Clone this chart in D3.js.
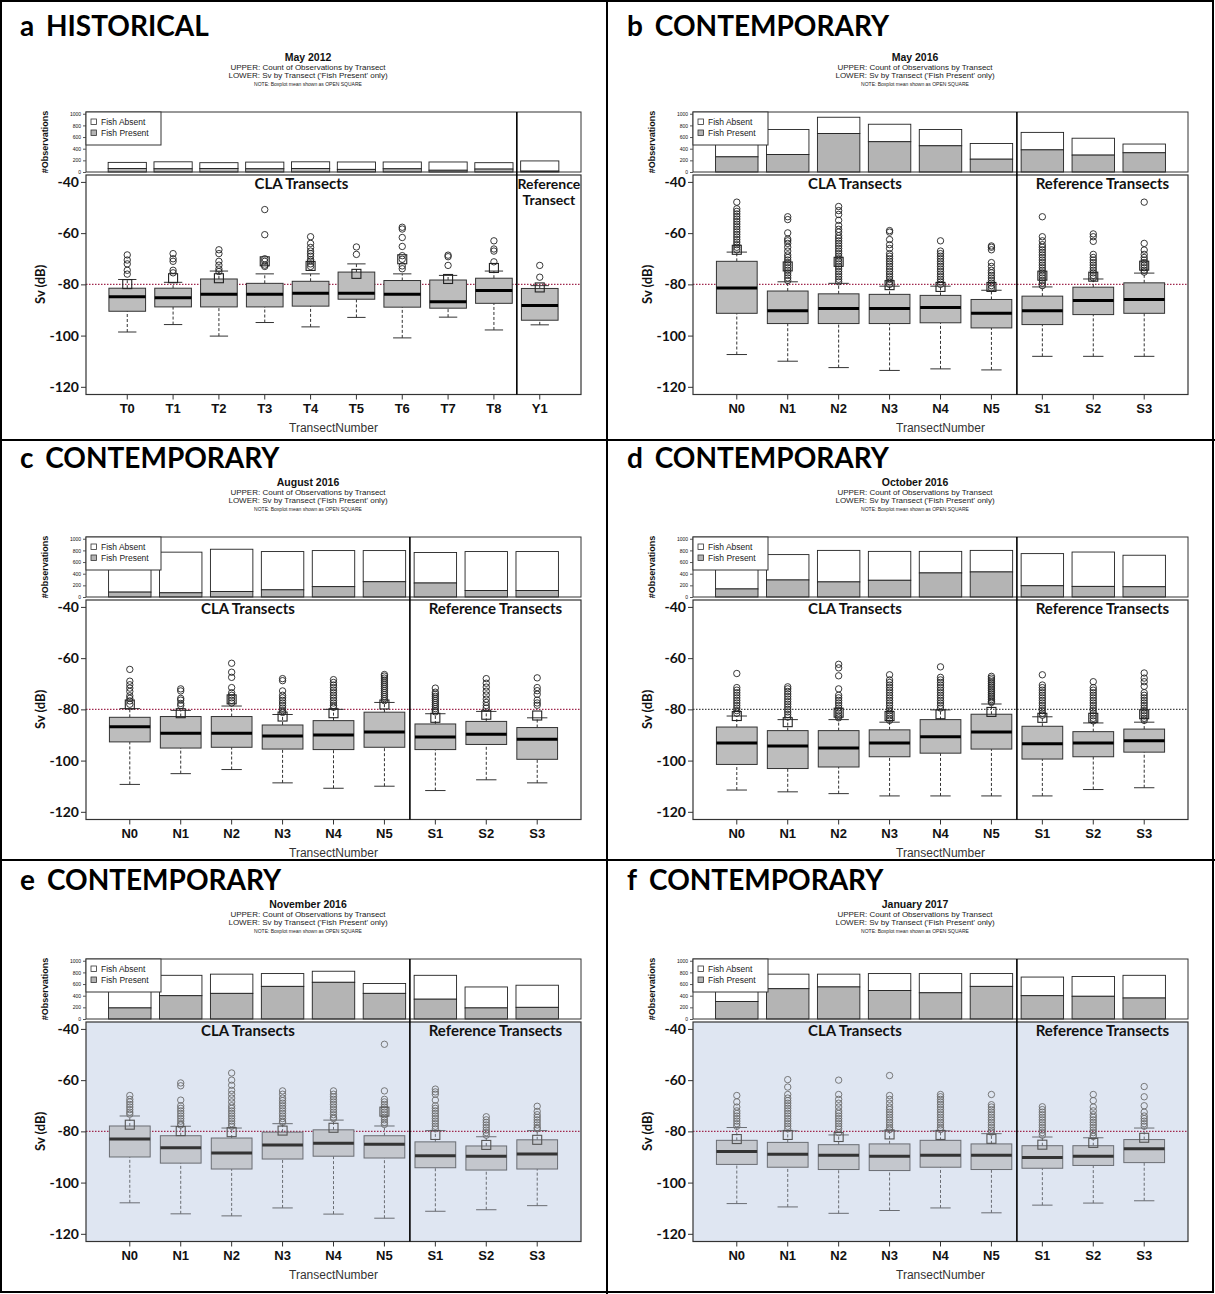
<!DOCTYPE html>
<html lang="en">
<head>
<meta charset="UTF-8">
<script src="https://d3js.org/d3.v7.min.js"></script>
<title>Sv by transect</title>
<style>
  body { margin: 0; background: #fff; }
  text { font-family: 'Liberation Sans', Arial, sans-serif; fill: #111; }
  text.panel-title { font-family: Lato, sans-serif; font-weight: bold; font-size: 28px; fill: #000; }
  text.month { font-weight: bold; font-size: 10.5px; text-anchor: middle; }
  text.sub { font-size: 8px; text-anchor: middle; fill: #222; }
  text.note { font-size: 5px; text-anchor: middle; fill: #222; }
  text.region { font-family: Lato, sans-serif; font-weight: bold; font-size: 15px; text-anchor: middle; }
  text.ylab { font-family: Lato, sans-serif; font-weight: bold; font-size: 13px; text-anchor: middle; }
  text.obs { font-weight: bold; font-size: 9px; text-anchor: middle; }
  text.xtitle { font-size: 12px; text-anchor: middle; fill: #333; }
  text.legend { font-size: 8.5px; fill: #222; }
</style>
</head>
<body>
<svg width="1215" height="1294"></svg>
<script>
// ---- data ----
const panelLetters = ["a", "b", "c", "d", "e", "f"];
const panelEras = ["HISTORICAL", "CONTEMPORARY", "CONTEMPORARY", "CONTEMPORARY", "CONTEMPORARY", "CONTEMPORARY"];
const surveyMonths = ["May 2012", "May 2016", "August 2016", "October 2016", "November 2016", "January 2017"];
const transectsHistoric = ["T0", "T1", "T2", "T3", "T4", "T5", "T6", "T7", "T8", "Y1"];
const transectsContemporary = ["N0", "N1", "N2", "N3", "N4", "N5", "S1", "S2", "S3"];
const countTicks = [0, 200, 400, 600, 800, 1000];
const svTicks = [-120, -100, -80, -60, -40];
const thresholdSv = -80;

// upper plot: total observations and 'fish present' observations
const countTotal = [
  [165, 175, 160, 170, 175, 172, 172, 172, 160, 190],
  [600, 730, 940, 820, 730, 490, 680, 580, 480],
  [600, 770, 820, 780, 797, 797, 764, 780, 780],
  [640, 728, 800, 783, 783, 800, 745, 772, 717],
  [650, 750, 770, 780, 820, 610, 750, 550, 580],
  [650, 770, 770, 780, 780, 780, 720, 730, 750]
];
const countPresent = [
  [60, 55, 60, 55, 60, 45, 55, 30, 50, 15],
  [260, 300, 660, 520, 450, 220, 380, 290, 330],
  [84, 72, 95, 123, 178, 262, 240, 111, 111],
  [138, 292, 259, 287, 413, 430, 193, 182, 176],
  [190, 400, 440, 560, 630, 440, 340, 190, 200],
  [300, 520, 550, 490, 450, 560, 400, 390, 360]
];

// lower plot: boxplot statistics of Sv (dB)
const whiskerLow = [
  [-98.6, -95.7, -100.2, -94.9, -96.6, -92.9, -100.9, -92.8, -97.8, -95.8],
  [-107.4, -110, -112.5, -113.6, -113, -113.4, -108.1, -108.1, -108.1],
  [-109.3, -105.1, -103.5, -108.7, -110.8, -110, -111.7, -107.5, -108.7],
  [-111.5, -112.2, -112.9, -113.8, -113.8, -113.8, -113.8, -111.3, -110.6],
  [-107.9, -112.2, -113, -109.9, -112.3, -113.9, -111.2, -110.6, -109],
  [-108.2, -109.5, -112, -110.9, -109.9, -111.8, -108.8, -108, -107.1]
];
const boxQ1 = [
  [-90.5, -88.8, -88.8, -88.8, -88.5, -85.8, -88.9, -89.3, -87.4, -94.0],
  [-91.3, -95.3, -95.3, -95.3, -95, -97, -95.7, -91.8, -91.3],
  [-92.7, -95.1, -94.8, -95.5, -95.7, -94.8, -95.7, -93.7, -99.5],
  [-101.5, -103.1, -102.5, -98.5, -97.1, -95.5, -99.4, -98.5, -96.7],
  [-90, -92.4, -94.7, -90.8, -89.7, -90.4, -94.2, -95.1, -94.7],
  [-92.9, -94, -94.9, -95.3, -94, -94.9, -94.4, -93.3, -92.2]
];
const boxMedian = [
  [-84.8, -85.2, -83.9, -83.9, -83.5, -83.5, -83.9, -86.8, -82.4, -88.3],
  [-81.4, -90.3, -89.4, -89.4, -89, -91.3, -90.3, -86.3, -85.9],
  [-86.8, -89.3, -89.3, -90.4, -90, -88.8, -90.8, -89.7, -91.7],
  [-93.1, -94.3, -95.1, -93.1, -90.7, -88.8, -93.4, -93.1, -92.3],
  [-83, -86.4, -88.4, -85.3, -84.6, -85, -89.5, -89.7, -88.8],
  [-87.9, -88.9, -89.3, -89.7, -89.3, -89.3, -90.2, -89.7, -86.8]
];
const boxQ3 = [
  [-81.5, -81.5, -77.9, -79.6, -78.8, -75.2, -78.5, -78.3, -77.6, -81.6],
  [-71, -82.6, -83.7, -83.9, -84.3, -85.9, -84.6, -81.1, -79.4],
  [-83.1, -82.8, -82.8, -86.1, -84.4, -81.1, -85.7, -84.7, -87.1],
  [-86.9, -88.3, -88.3, -88, -84, -81.9, -86.6, -88.7, -87.7],
  [-77.9, -81.7, -82.6, -80.3, -79.4, -81.7, -84.1, -85.7, -83.3],
  [-83.5, -84.3, -85.2, -84.9, -83.5, -84.9, -85.6, -85.6, -83.2]
];
const whiskerHigh = [
  [-78.1, -79.2, -74.8, -75.9, -75.9, -72.0, -75.9, -76.5, -74.8, -80.5],
  [-67.4, -79, -79.6, -80.7, -80.7, -82.3, -81, -77.9, -75.6],
  [-79.7, -80.4, -78.7, -82, -80, -77.3, -81.7, -80.8, -83.3],
  [-82.6, -84, -84, -85, -80.2, -77.9, -82.9, -85.3, -85],
  [-74, -78, -78.7, -77, -75.6, -77.9, -79.7, -82.1, -79.7],
  [-78.5, -79.8, -81.4, -79.8, -79.8, -80.9, -82.2, -82.5, -78.7]
];
const boxMean = [
  [-79.9, -77.6, -77.6, -71.0, -72.8, -75.9, -70.2, -77.9, -73.6, -81.2],
  [-66.5, -73, -71.2, -80.3, -81, -81, -76.6, -77, -72.7],
  [-78.1, -81.5, -76.1, -82.8, -81.5, -78.1, -83.3, -82.1, -82.4],
  [-82.6, -85, -81.3, -82.6, -81.9, -81, -83.3, -83.3, -81.9],
  [-77.4, -79.9, -80.3, -79.7, -78.6, -72.3, -81.4, -85.3, -83.3],
  [-83, -81.4, -82.2, -81.2, -81.4, -82.9, -85.2, -84.5, -82.5]
];
const outliers = [
  [
    [-68.5, -70.5, -72, -74.5, -76],
    [-68, -70, -71, -74.5, -75.5],
    [-66.5, -68, -71, -72.5, -74, -75],
    [-50.8, -60.6, -70, -71, -72.5, -73],
    [-61.4, -64, -65.6, -67, -68, -69, -70.3, -71, -72, -73],
    [-65.4, -68.3],
    [-57.7, -58.4, -61.7, -65.2, -68.8, -70.2, -72.8, -73.9],
    [-68.6, -69.2, -72.6],
    [-63, -66.2, -67, -71.2],
    [-72.6, -77.2]
  ],
  [
    [-47.9, -50.5, -51.5, -52.5, -53.5, -54.5, -55.5, -56.5, -57.5, -58.5, -59.5, -60.5, -61.5, -62.5, -63.5, -64.5, -65.5, -66.5],
    [-53.6, -54.7, -59.9, -62.3, -63, -64, -65.5, -67, -68.5, -69.5, -70.5, -71.5, -72.5, -73.5, -74.5, -75.5, -76.5, -77.5, -78.5],
    [-49.6, -51.2, -52.7, -55, -57, -58.5, -59.6, -61, -62, -63, -64, -65, -66, -67, -68, -69, -70, -71, -72, -73, -74, -75, -76, -77, -78, -79],
    [-59, -59.6, -62.5, -64.5, -66, -68, -69, -70, -71, -72, -73, -74, -75, -76, -77, -78, -79, -80],
    [-63, -67, -68, -69, -70, -71, -72, -73, -74, -75, -76, -77, -78, -79, -80],
    [-65, -65.5, -66.5, -71.5, -73, -74.5, -75.5, -76.5, -77.5, -78.5, -79.5, -80.5, -81.5],
    [-53.6, -61.4, -63, -64.5, -65.5, -66.5, -67.5, -68.5, -69.5, -70.5, -71.5, -72.5, -73.5, -74.5, -75.5, -76.5, -77.5, -78.5, -79.5, -80.5],
    [-60.3, -61.4, -63.2, -68.3, -69.5, -70.5, -71.5, -72.5, -73.5, -74.5, -75.5, -76.5, -77.5],
    [-47.9, -64, -66.6, -68.3, -69.5, -70.5, -71.5, -72.5, -73.5, -74.5, -75.2]
  ],
  [
    [-64.4, -69, -70.4, -71.7, -73, -74.7, -75.7, -76.7, -78],
    [-72, -72.8, -75.7, -76.4, -77.7, -78.5],
    [-62, -65.5, -67.5, -71.5, -73.5, -74.5, -75.5, -76.5, -77.5],
    [-68, -68.8, -72.8, -74.5, -75.5, -76.5, -77.5, -78.5, -79.5, -80.5, -81.2],
    [-68.4, -69.5, -70.5, -71.5, -72.5, -73.5, -74.5, -75.5, -76.5, -77.5, -78.5, -79.2],
    [-66.4, -67, -67.8, -68.6, -69.4, -70.2, -71, -71.8, -72.6, -73.4, -74.2, -75, -75.8, -76.6],
    [-71.7, -73.3, -74.1, -74.9, -75.7, -76.5, -77.3, -78.1, -78.9, -79.7, -80.5, -81],
    [-68, -69.8, -71.3, -72.9, -74.4, -76, -77.3, -78.5, -79.5],
    [-67.7, -71.5, -72.7, -74.1, -76.4, -77.5, -78.4]
  ],
  [
    [-66, -71.5, -72.5, -73.5, -74.5, -75.5, -76.5, -77.5, -78.5, -79.5, -80.5, -81.5],
    [-71.2, -72, -73, -74, -75, -76, -77, -78, -79, -80, -81, -82, -83],
    [-62.4, -63.8, -66.9, -72, -74.5, -75.5, -76.5, -77.5, -78.5, -79.5, -80.5, -81.5, -82.5, -83.3],
    [-66.5, -68.5, -69.5, -70.5, -71.5, -72.5, -73.5, -74.5, -75.5, -76.5, -77.5, -78.5, -79.5, -80.5, -81.5, -82.5, -83.5, -84.3],
    [-63.4, -67.5, -68.5, -69.5, -70.5, -71.5, -72.5, -73.5, -74.5, -75.5, -76.5, -77.5, -78.5, -79.5],
    [-67.1, -67.8, -68.5, -69.2, -69.9, -70.6, -71.3, -72, -72.7, -73.4, -74.1, -74.8, -75.5, -76.2, -76.9, -77.3],
    [-66.5, -70.5, -71.5, -72.5, -73.5, -74.5, -75.5, -76.5, -77.5, -78.5, -79.5, -80.5, -81.5, -82.3],
    [-69.2, -71.5, -72.5, -73.5, -74.5, -75.5, -76.5, -77.5, -78.5, -79.5, -80.5, -81.5, -82.5, -83.5, -84.5],
    [-65.8, -67.8, -69.2, -71, -73.5, -74.5, -75.5, -76.5, -77.5, -78.5, -79.5, -80.5, -81.5, -82.5, -83.5, -84.3]
  ],
  [
    [-66, -67.5, -68.5, -69.5, -70.5, -71.5, -72.5, -73.3],
    [-61.1, -62.2, -67.8, -70, -71, -72, -73, -74, -75, -76, -77, -77.5],
    [-57.2, -60, -62, -64, -65.5, -67, -68.5, -70, -71, -72, -73, -74, -75, -76, -77, -78],
    [-64.2, -65.5, -67, -68, -69, -70, -71, -72, -73, -74, -75, -76, -76.5],
    [-64.2, -65.5, -66.5, -67.5, -68.5, -69.5, -70.5, -71.5, -72.5, -73.5, -74.5, -75],
    [-46, -64.2, -67.5, -68.5, -69.5, -70.5, -71.5, -72.5, -73.5, -74.5, -75.5, -76.5, -77.3],
    [-63.5, -64.6, -65.5, -67.8, -70, -71, -72, -73, -74, -75, -76, -77, -78, -79],
    [-74.3, -75.5, -76.5, -77.5, -78.5, -79.5, -80.5, -81.5],
    [-70.2, -72.2, -73.5, -74.5, -75.5, -76.5, -77.5, -78.5, -79]
  ],
  [
    [-66, -68.5, -70.5, -72, -73, -74, -75, -76, -77, -78],
    [-59.8, -62.7, -65.6, -67, -68, -69, -70, -71, -72, -73, -74, -75, -76, -77, -78, -79],
    [-60, -65.6, -67.5, -69, -70.5, -72, -73, -74, -75, -76, -77, -78, -79, -80.5],
    [-58.2, -66, -67.5, -69, -70.5, -71.5, -72.5, -73.5, -74.5, -75.5, -76.5, -77.5, -78.5, -79.3],
    [-65.6, -66.5, -67.5, -68.5, -69.5, -70.5, -71.5, -72.5, -73.5, -74.5, -75.5, -76.5, -77.5, -78.5, -79.3],
    [-65.6, -69.6, -70.5, -71.5, -72.5, -73.5, -74.5, -75.5, -76.5, -77.5, -78.5, -79.5, -80.3],
    [-70.4, -71.5, -72.5, -73.5, -74.5, -75.5, -76.5, -77.5, -78.5, -79.5, -80.5, -81.5],
    [-65.6, -68, -70.5, -72, -73.5, -74.5, -75.5, -76.5, -77.5, -78.5, -79.5, -80.5, -81.5, -82],
    [-62.5, -66.5, -70, -72.5, -74, -75, -76, -77, -78]
  ]
];

// ---- layout ----
const cellX = [0, 607];
const rowDy = [0, 425, 847];
const titleY = [36, 468, 890];
const L = 86, R = 581;           // plot left/right inside a cell
const UT = 112, UB = 172;        // upper (count) plot
const LT = 175, LB = 394.5;      // lower (Sv) plot
const headX = 308;               // centre of the heading block

const svg = d3.select("svg");

// panel grid
svg.append("rect").attr("x", 1).attr("y", 1).attr("width", 1212).attr("height", 1291)
    .attr("fill", "none").attr("stroke", "#000").attr("stroke-width", 2);
svg.append("line").attr("x1", 607).attr("x2", 607).attr("y1", 0).attr("y2", 1294)
    .attr("stroke", "#000").attr("stroke-width", 2);
[440, 860].forEach(y => svg.append("line").attr("x1", 0).attr("x2", 1215).attr("y1", y).attr("y2", y)
    .attr("stroke", "#000").attr("stroke-width", 2));

panelLetters.forEach((letter, k) => drawPanel(k));

function drawPanel(k) {
    const col = k % 2, row = Math.floor(k / 2);
    const tinted = row === 2;
    const g = svg.append("g").attr("transform", `translate(${cellX[col]},${rowDy[row]})`);

    const t = g.append("text").attr("class", "panel-title").attr("x", 20).attr("y", titleY[row] - rowDy[row]);
    t.append("tspan").text(panelLetters[k]);
    t.append("tspan").attr("dx", 12).text(panelEras[k]);

    g.append("text").attr("class", "month").attr("x", headX).attr("y", 61).text(surveyMonths[k]);
    g.append("text").attr("class", "sub").attr("x", headX).attr("y", 69.5).text("UPPER: Count of Observations by Transect");
    g.append("text").attr("class", "sub").attr("x", headX).attr("y", 78).text("LOWER: Sv by Transect ('Fish Present' only)");
    g.append("text").attr("class", "note").attr("x", headX).attr("y", 86).text("NOTE: Boxplot mean shown as OPEN SQUARE");

    const cats = k === 0 ? transectsHistoric : transectsContemporary;
    const nCla = k === 0 ? 9 : 6;
    const x = d3.scaleBand().domain(cats).range([L, R]).paddingInner(0).paddingOuter(0.04 * cats.length);
    const step = x.step();
    const cx = c => x(c) + step / 2;
    const divX = x(cats[nCla]);

    // ---- upper: stacked counts ----
    const yCount = d3.scaleLinear().domain([0, 1030]).range([UB, UT]);
    const barW = step / 1.2;
    cats.forEach((c, i) => {
        g.append("rect").attr("x", cx(c) - barW / 2).attr("width", barW)
            .attr("y", yCount(countTotal[k][i])).attr("height", yCount(countPresent[k][i]) - yCount(countTotal[k][i]))
            .attr("fill", "#fff").attr("stroke", "#222").attr("stroke-width", 0.9);
        g.append("rect").attr("x", cx(c) - barW / 2).attr("width", barW)
            .attr("y", yCount(countPresent[k][i])).attr("height", yCount(0) - yCount(countPresent[k][i]))
            .attr("fill", "#b4b4b4").attr("stroke", "#222").attr("stroke-width", 0.9);
    });
    g.append("rect").attr("x", L).attr("y", UT).attr("width", R - L).attr("height", UB - UT)
        .attr("fill", "none").attr("stroke", "#333").attr("stroke-width", 1);
    const ca = g.append("g").attr("transform", `translate(${L},0)`)
        .call(d3.axisLeft(yCount).tickValues(countTicks).tickFormat(d3.format("d")).tickSize(3).tickPadding(2));
    ca.select(".domain").remove();
    ca.selectAll("text").style("font-size", "5px").attr("fill", "#444");
    ca.selectAll("line").attr("stroke", "#555");
    g.append("text").attr("class", "obs").attr("transform", `translate(48,${(UT + UB) / 2}) rotate(-90)`).text("#Observations");

    // legend
    const lg = g.append("g").attr("transform", `translate(${L},${UT})`);
    lg.append("rect").attr("width", 75).attr("height", 33).attr("fill", "#fff").attr("stroke", "#333").attr("stroke-width", 1);
    [["Fish Absent", "#fff"], ["Fish Present", "#b4b4b4"]].forEach((d, i) => {
        lg.append("rect").attr("x", 5).attr("y", 7 + i * 11).attr("width", 5.5).attr("height", 5.5)
            .attr("fill", d[1]).attr("stroke", "#333").attr("stroke-width", 0.8);
        lg.append("text").attr("class", "legend").attr("x", 15).attr("y", 13 + i * 11).text(d[0]);
    });

    // ---- lower: Sv boxplots ----
    const ySv = d3.scaleLinear().domain([-123, -37.3]).range([LB, LT]);
    g.append("rect").attr("x", L).attr("y", LT).attr("width", R - L).attr("height", LB - LT)
        .attr("fill", tinted ? "#dfe6f2" : "#fff");
    g.append("line").attr("x1", L).attr("x2", R).attr("y1", ySv(thresholdSv)).attr("y2", ySv(thresholdSv))
        .attr("stroke", k === 3 ? "#444" : "#a0284e").attr("stroke-width", 1.3).attr("stroke-dasharray", "1.5,1.5");

    const boxW = step * 0.8, capW = step * 0.4;
    const boxFill = tinted ? "#c4c7cd" : "#bdbdbd";
    const edge = tinted ? "#6a6d73" : "#333";
    cats.forEach((c, i) => {
        const xc = cx(c);
        [[whiskerLow[k][i], boxQ1[k][i]], [boxQ3[k][i], whiskerHigh[k][i]]].forEach(w => {
            g.append("line").attr("x1", xc).attr("x2", xc).attr("y1", ySv(w[0])).attr("y2", ySv(w[1]))
                .attr("stroke", edge).attr("stroke-width", 1).attr("stroke-dasharray", "3,2");
        });
        [whiskerLow[k][i], whiskerHigh[k][i]].forEach(v => {
            g.append("line").attr("x1", xc - capW / 2).attr("x2", xc + capW / 2).attr("y1", ySv(v)).attr("y2", ySv(v))
                .attr("stroke", edge).attr("stroke-width", 1);
        });
        g.append("rect").attr("x", xc - boxW / 2).attr("width", boxW)
            .attr("y", ySv(boxQ3[k][i])).attr("height", ySv(boxQ1[k][i]) - ySv(boxQ3[k][i]))
            .attr("fill", boxFill).attr("stroke", edge).attr("stroke-width", 1);
        g.append("line").attr("x1", xc - boxW / 2).attr("x2", xc + boxW / 2)
            .attr("y1", ySv(boxMedian[k][i])).attr("y2", ySv(boxMedian[k][i]))
            .attr("stroke", tinted ? "#333" : "#000").attr("stroke-width", 3);
        g.selectAll(null).data(outliers[k][i]).enter().append("circle")
            .attr("cx", xc).attr("cy", d => ySv(d)).attr("r", 3.2)
            .attr("fill", "none").attr("stroke", tinted ? "#6b6b6b" : "#222").attr("stroke-width", 0.9);
        g.append("rect").attr("x", xc - 4.5).attr("y", ySv(boxMean[k][i]) - 4.5).attr("width", 9).attr("height", 9)
            .attr("fill", "none").attr("stroke", tinted ? "#555" : "#222").attr("stroke-width", 1.1);
    });

    g.append("rect").attr("x", L).attr("y", LT).attr("width", R - L).attr("height", LB - LT)
        .attr("fill", "none").attr("stroke", "#333").attr("stroke-width", 1.2);
    g.append("line").attr("x1", divX).attr("x2", divX).attr("y1", UT).attr("y2", LB)
        .attr("stroke", "#000").attr("stroke-width", 1.6);

    const ya = g.append("g").attr("transform", `translate(${L},0)`)
        .call(d3.axisLeft(ySv).tickValues(svTicks).tickFormat(d => String(d)).tickSize(5).tickPadding(2));
    ya.select(".domain").remove();
    ya.selectAll("text").style("font-family", "Lato, sans-serif").style("font-weight", "bold").style("font-size", "14px").attr("fill", "#111");
    ya.selectAll("line").attr("stroke", "#333");

    const xa = g.append("g").attr("transform", `translate(0,${LB})`)
        .call(d3.axisBottom(x).tickSize(5).tickPadding(4));
    xa.select(".domain").remove();
    xa.selectAll("text").style("font-weight", "bold").style("font-size", "13px").attr("fill", "#111");
    xa.selectAll("line").attr("stroke", "#333");

    g.append("text").attr("class", "ylab").attr("transform", `translate(45,${ySv(-80)}) rotate(-90)`).text("Sv (dB)");
    g.append("text").attr("class", "xtitle").attr("x", (L + R) / 2).attr("y", 432).text("TransectNumber");

    g.append("text").attr("class", "region").attr("x", (L + divX) / 2).attr("y", 189).text("CLA Transects");
    if (k === 0) {
        g.append("text").attr("class", "region").style("font-size", "14px").attr("x", (divX + R) / 2).attr("y", 189).text("Reference");
        g.append("text").attr("class", "region").style("font-size", "14px").attr("x", (divX + R) / 2).attr("y", 205).text("Transect");
    } else {
        g.append("text").attr("class", "region").attr("x", (divX + R) / 2).attr("y", 189).text("Reference Transects");
    }
}
</script>
</body>
</html>
